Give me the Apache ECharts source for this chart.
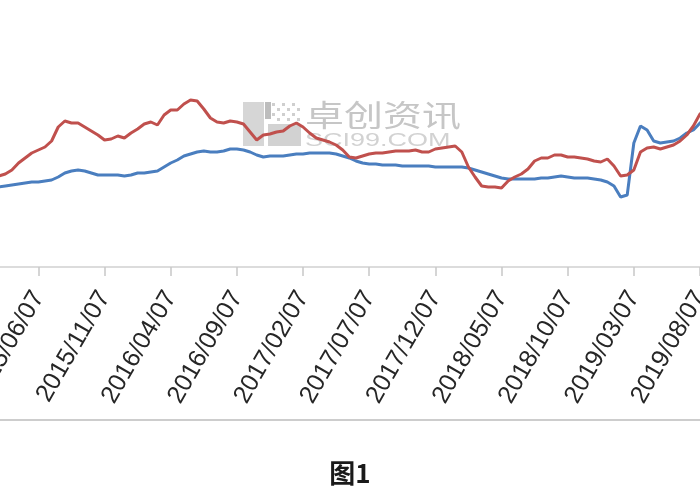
<!DOCTYPE html>
<html>
<head>
<meta charset="utf-8">
<script src="https://cdn.jsdelivr.net/npm/echarts@6/dist/echarts.min.js"></script>
<style>html,body{margin:0;padding:0;background:#fff;}#c{width:700px;height:500px;}</style>
</head>
<body>
<div id="c"></div>
<script>
// Semi-monthly dates (day 07 and 22)
const dates = [
'2015/03/07','2015/03/22','2015/04/07','2015/04/22','2015/05/07','2015/05/22','2015/06/07','2015/06/22','2015/07/07','2015/07/22','2015/08/07','2015/08/22','2015/09/07','2015/09/22','2015/10/07','2015/10/22','2015/11/07','2015/11/22','2015/12/07','2015/12/22',
'2016/01/07','2016/01/22','2016/02/07','2016/02/22','2016/03/07','2016/03/22','2016/04/07','2016/04/22','2016/05/07','2016/05/22','2016/06/07','2016/06/22','2016/07/07','2016/07/22','2016/08/07','2016/08/22','2016/09/07','2016/09/22','2016/10/07','2016/10/22','2016/11/07','2016/11/22','2016/12/07','2016/12/22',
'2017/01/07','2017/01/22','2017/02/07','2017/02/22','2017/03/07','2017/03/22','2017/04/07','2017/04/22','2017/05/07','2017/05/22','2017/06/07','2017/06/22','2017/07/07','2017/07/22','2017/08/07','2017/08/22','2017/09/07','2017/09/22','2017/10/07','2017/10/22','2017/11/07','2017/11/22','2017/12/07','2017/12/22',
'2018/01/07','2018/01/22','2018/02/07','2018/02/22','2018/03/07','2018/03/22','2018/04/07','2018/04/22','2018/05/07','2018/05/22','2018/06/07','2018/06/22','2018/07/07','2018/07/22','2018/08/07','2018/08/22','2018/09/07','2018/09/22','2018/10/07','2018/10/22','2018/11/07','2018/11/22','2018/12/07','2018/12/22',
'2019/01/07','2019/01/22','2019/02/07','2019/02/22','2019/03/07','2019/03/22','2019/04/07','2019/04/22','2019/05/07','2019/05/22','2019/06/07','2019/06/22','2019/07/07','2019/07/22','2019/08/07','2019/08/22'
];

const redValues = [
910,930,970,1040,1090,1140,1170,1200,1260,1400,1460,1440,1440,1400,1360,1320,1270,1280,1310,1290,
1340,1380,1430,1450,1420,1520,1570,1570,1630,1670,1660,1580,1490,1450,1440,1460,1450,1430,1350,1270,1320,1330,1350,1360,
1410,1440,1400,1340,1290,1270,1250,1220,1170,1100,1090,1110,1130,1140,1140,1150,1160,1160,1160,1170,1150,1150,1180,1190,
1200,1210,1150,1000,900,810,800,800,790,860,900,930,980,1060,1090,1090,1120,1120,1100,1100,1090,1080,1060,1050,
1080,1010,910,920,970,1150,1190,1200,1180,1200,1220,1260,1320,1410,1530,1590
];

const blueValues = [
800,810,820,830,840,850,850,860,870,900,940,960,970,960,940,920,920,920,920,910,
920,940,940,950,960,1000,1040,1070,1110,1130,1150,1160,1150,1150,1160,1180,1180,1170,1150,1120,1100,1110,1110,1110,
1120,1130,1130,1140,1140,1140,1140,1130,1110,1090,1060,1040,1030,1030,1020,1020,1020,1010,1010,1010,1010,1010,1000,1000,
1000,1000,1000,990,970,950,930,910,890,880,880,880,880,880,890,890,900,910,900,890,890,890,880,870,
850,810,700,720,1240,1410,1370,1260,1240,1250,1260,1290,1340,1370,1440,1490
];

const tickLabels = ['2015/06/07','2015/11/07','2016/04/07','2016/09/07','2017/02/07','2017/07/07','2017/12/07','2018/05/07','2018/10/07','2019/03/07','2019/08/07'];

function toMonth(s) {
  const p = s.split('/').map(Number);
  return (p[0] - 2015) * 12 + (p[1] - 1) + (p[2] - 7) / 30;
}
function monthToLabel(m) {
  const r = Math.round(m);
  const y = 2015 + Math.floor(r / 12);
  const mo = (r % 12) + 1;
  return y + '/' + (mo < 10 ? '0' + mo : mo) + '/07';
}
const tickValues = tickLabels.map(toMonth);
const redData = dates.map((d, i) => [toMonth(d), redValues[i]]);
const blueData = dates.map((d, i) => [toMonth(d), blueValues[i]]);

const chart = echarts.init(document.getElementById('c'), null, {renderer: 'canvas'});

// watermark logo dots
const dots = [];
for (let r = 0; r < 4; r++) {
  for (let c = 0; c < 6; c++) {
    if ((r + c) % 2 === 0) dots.push({type: 'rect', shape: {x: 272 + c * 5, y: 103 + r * 5, width: 3, height: 3}, style: {fill: '#cfcfcf'}, z: 0, silent: true});
  }
}

chart.setOption({
  animation: false,
  backgroundColor: '#ffffff',
  title: {
    text: '图1',
    left: 'center',
    top: 460,
    padding: 0,
    textStyle: {fontFamily: 'Noto Sans CJK SC', fontSize: 26, fontWeight: 'bold', color: '#1a1a1a'}
  },
  grid: {left: 0, right: 0, top: 0, bottom: 233, containLabel: false, outerBoundsMode: 'none'},
  xAxis: {
    type: 'value',
    min: 2.1,
    max: 55,
    axisLine: {show: true, lineStyle: {color: '#d0d0d0', width: 1.5}},
    axisTick: {show: true, length: 9, customValues: tickValues, lineStyle: {color: '#c8c8c8', width: 1.5}},
    axisLabel: {
      show: true,
      customValues: tickValues,
      rotate: 60,
      margin: 26,
      fontFamily: 'Liberation Sans',
      fontSize: 25,
      color: '#262626',
      hideOverlap: false,
      formatter: v => monthToLabel(v)
    },
    splitLine: {show: false}
  },
  yAxis: {
    type: 'value',
    min: 0,
    max: 2670,
    show: false,
    splitLine: {show: false}
  },
  graphic: [
    {type: 'rect', shape: {x: 243, y: 102, width: 21, height: 44}, style: {fill: '#d6d6d6'}, z: 0, silent: true},
    {type: 'rect', shape: {x: 265, y: 102, width: 6, height: 17}, style: {fill: '#bdbdbd'}, z: 0, silent: true},
    {type: 'rect', shape: {x: 268, y: 124, width: 33, height: 22}, style: {fill: '#d2d2d2'}, z: 0, silent: true},
    ...dots,
    {type: 'text', x: 305, y: 100, scaleX: 1.3, z: 0, silent: true,
      style: {text: '卓创资讯', font: '30px "Noto Sans CJK SC"', fill: '#c6c6c6'}},
    {type: 'text', x: 305, y: 132, scaleX: 1.5, z: 0, silent: true,
      style: {text: 'SCI99.COM', font: '18px "Liberation Sans"', fill: '#d2d2d2'}},
    {type: 'line', shape: {x1: 0, y1: 420, x2: 700, y2: 420}, style: {stroke: '#bdbdbd', lineWidth: 1.5}, z: 0, silent: true}
  ],
  series: [
    {
      name: 'blue',
      type: 'line',
      data: blueData,
      showSymbol: false,
      lineStyle: {color: '#4a7ebf', width: 3},
      itemStyle: {color: '#4a7ebf'},
      z: 3
    },
    {
      name: 'red',
      type: 'line',
      data: redData,
      showSymbol: false,
      lineStyle: {color: '#c0504d', width: 3},
      itemStyle: {color: '#c0504d'},
      z: 4
    }
  ]
});
</script>
</body>
</html>
